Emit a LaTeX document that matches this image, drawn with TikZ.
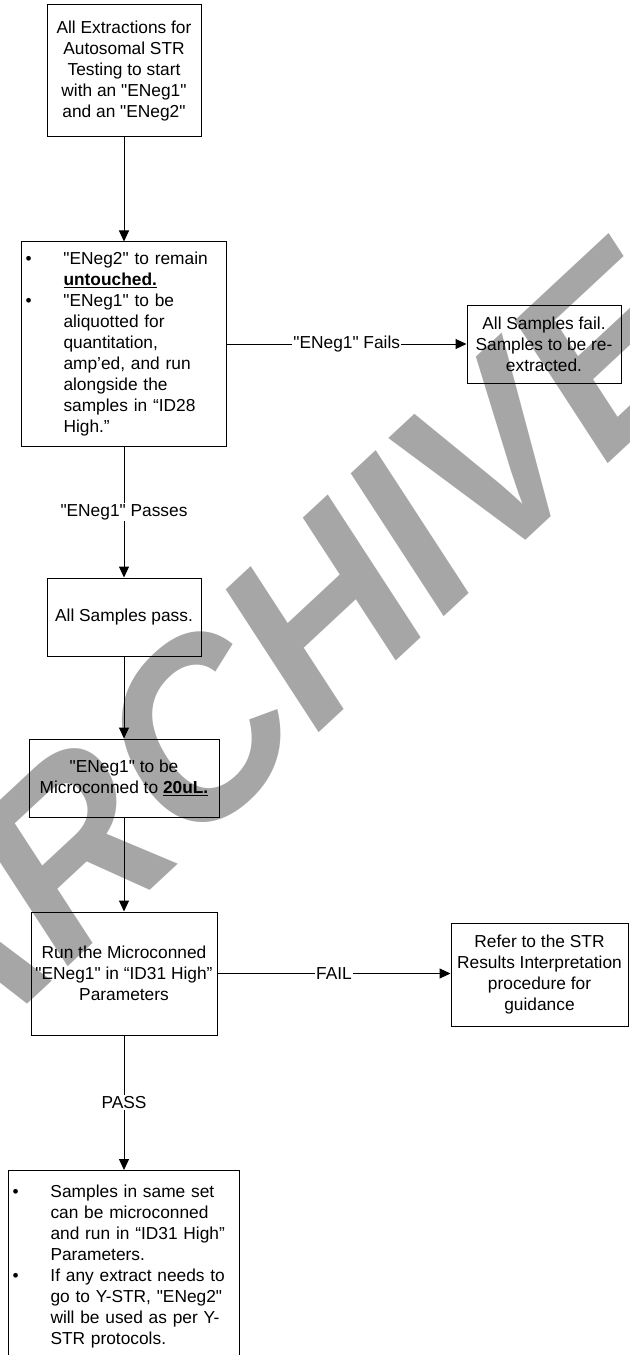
\documentclass[tikz,border=0pt]{standalone}
\usepackage{fontspec}
\setmainfont{Liberation Sans}
\usetikzlibrary{arrows.meta}

\definecolor{wmgray}{RGB}{166,166,166}
\newcommand{\itm}{\makebox[28.5pt][l]{\textbullet}}
\newcommand{\gap}{\hspace*{28.5pt}}
\newcommand{\qt}[1]{\textquotedbl#1\textquotedbl}

\tikzset{
  box/.style={draw, line width=0.75pt, inner sep=3pt, align=center},
  lbl/.style={fill=white, inner sep=1pt},
  wmark/.style={text=wmgray, font=\fontsize{165}{165}\selectfont\bfseries, inner sep=0pt},
}

\begin{document}
\begin{tikzpicture}[x=0.75pt, y=-0.75pt, font=\fontsize{13}{15.75}\selectfont, line width=0.75pt, -{Triangle[length=8.25pt,width=7.5pt]}]
	\useasboundingbox (0,0) rectangle (629,1355);
	% watermark behind the chart
	\node[wmark, anchor=base west, transform shape, cm={0.789,0.734,-0.614,0.944,(0,0)}] (wm) at (-69,1094) {ARCHIVED};
	% boxes
	\node[box, minimum width=115.5pt, minimum height=99pt] (start) at (124,71) {All Extractions for\\Autosomal STR\\Testing to start\\with an \qt{ENeg1}\\and an \qt{ENeg2}};
	\node[box, minimum width=153.75pt, minimum height=153pt, text width=147.75pt, align=left] (keep) at (124,344) {\itm\qt{ENeg2} to remain\\\gap\underline{\textbf{untouched.}}\\\itm\qt{ENeg1} to be\\\gap aliquotted for\\\gap quantitation,\\\gap amp’ed, and run\\\gap alongside the\\\gap samples in “ID28\\\gap High.”};
	\node[box, minimum width=115.5pt, minimum height=58.5pt] (fail) at (544,344) {All Samples fail.\\Samples to be re-\\extracted.};
	\node[box, minimum width=115.5pt, minimum height=58.5pt] (pass) at (124,617) {All Samples pass.};
	\node[box, minimum width=142.5pt, minimum height=58.5pt] (micro) at (124,778) {\qt{ENeg1} to be\\Microconned to \underline{\textbf{20uL.}}};
	\node[box, minimum width=139.5pt, minimum height=92.25pt] (run) at (124,973.5) {Run the Microconned\\\qt{ENeg1} in “ID31 High”\\Parameters};
	\node[box, minimum width=132.75pt, minimum height=77.25pt] (refer) at (539.5,974.5) {Refer to the STR\\Results Interpretation\\procedure for\\guidance};
	\node[box, anchor=north, minimum width=173.25pt, minimum height=187.5pt] (samp) at (124,1170) {};
	\node[anchor=north west, inner sep=3pt, text width=167.25pt, align=left] (samptxt) at ([yshift=-7.5pt]samp.north west) {\itm Samples in same set\\\gap can be microconned\\\gap and run in “ID31 High”\\\gap Parameters.\\\itm If any extract needs to\\\gap go to Y-STR, \qt{ENeg2}\\\gap will be used as per Y-\\\gap STR protocols.};
	% connectors
	\draw (start) -- (keep);
	\draw (keep) -- node[lbl] {\qt{ENeg1} Fails} (fail);
	\draw (keep) -- node[lbl] {\qt{ENeg1} Passes} (pass);
	\draw (pass) -- (micro);
	\draw (micro) -- (run);
	\draw (run.east) -- node[lbl] {FAIL} (run.east -| refer.west);
	\draw (run) -- node[lbl] {PASS} (samp);
\end{tikzpicture}
\end{document}
